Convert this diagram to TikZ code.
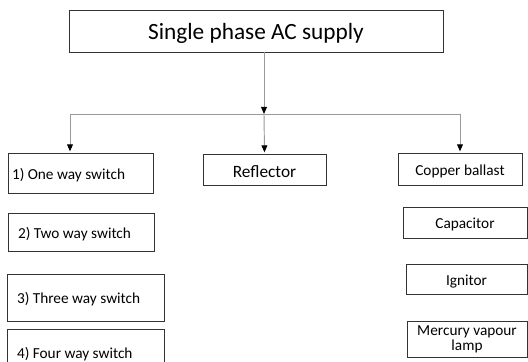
\documentclass[tikz,border=0pt]{standalone}
\usepackage{fontspec}
\setmainfont{Carlito}
\usetikzlibrary{arrows.meta,positioning}

\begin{document}
\begin{tikzpicture}[
  x=0.85pt, y=-0.85pt,
  box/.style={draw=black!80, line width=0.8pt, inner ysep=1pt, text height=11pt, text depth=0pt, font=\fontsize{13}{12.75}\selectfont},
  swbox/.style={box, align=flush left},
  link/.style={-{Triangle[width=5pt,length=6pt,color=black]}, draw=black!40, line width=0.8pt},
  wire/.style={draw=black!40, line width=0.8pt}
]
\useasboundingbox (0,0) rectangle (528,362);

% supply at the top
\node[box, minimum width=317.9pt, minimum height=35.7pt, text height=16pt, text depth=2pt, font=\fontsize{19.8}{22}\selectfont] (supply) at (256,31) {Single phase AC supply};

% branch points
\coordinate (jn) at (264,114);
\coordinate (jl) at (70,114);
\coordinate (jr) at (460,114);

% switches
\node[swbox, minimum width=123.25pt, minimum height=34pt, inner xsep=3.4pt, text width=116.45pt] (sw1) at (80.5,173) {1) One way switch};
\node[swbox, minimum width=124.1pt, minimum height=32.3pt, inner xsep=8.5pt, text width=107.1pt] (sw2) at (81,232) {2) Two way switch};
\node[swbox, minimum width=133.45pt, minimum height=39.95pt, inner xsep=8.5pt, text width=116.45pt] (sw3) at (85.5,297.5) {3) Three way switch};
\node[swbox, minimum width=133.45pt, minimum height=39.1pt, inner xsep=8.5pt, text width=116.45pt] (sw4) at (85.5,352) {4) Four way switch};

% reflector
\node[box, minimum width=104.55pt, minimum height=26.35pt, text height=13pt, font=\fontsize{14.7}{16}\selectfont] (refl) at (264.5,169.5) {Reflector};

% lamp parts
\node[box, minimum width=105.4pt, minimum height=27.2pt] (ballast) at (460,169) {Copper ballast};
\node[box, minimum width=105.4pt, minimum height=26.35pt] (cap) at (465,222.5) {Capacitor};
\node[box, minimum width=102.85pt, minimum height=25.5pt] (ign) at (466.5,279) {Ignitor};
\node[box, minimum width=102pt, minimum height=30.6pt, align=flush center, text height=, text depth=] (lamp) at (467,339) {Mercury vapour\\lamp};

\draw[link] (supply.south -| jn) -- (jn);
\draw[wire] (jl) -- (jr);
\draw[link] (jl) -- ([yshift=1pt]jl |- sw1.north);
\draw[link] (jn) -- ([yshift=1pt]refl.north);
\draw[link] (jr) -- ([yshift=1pt]jr |- ballast.north);

\end{tikzpicture}
\end{document}
